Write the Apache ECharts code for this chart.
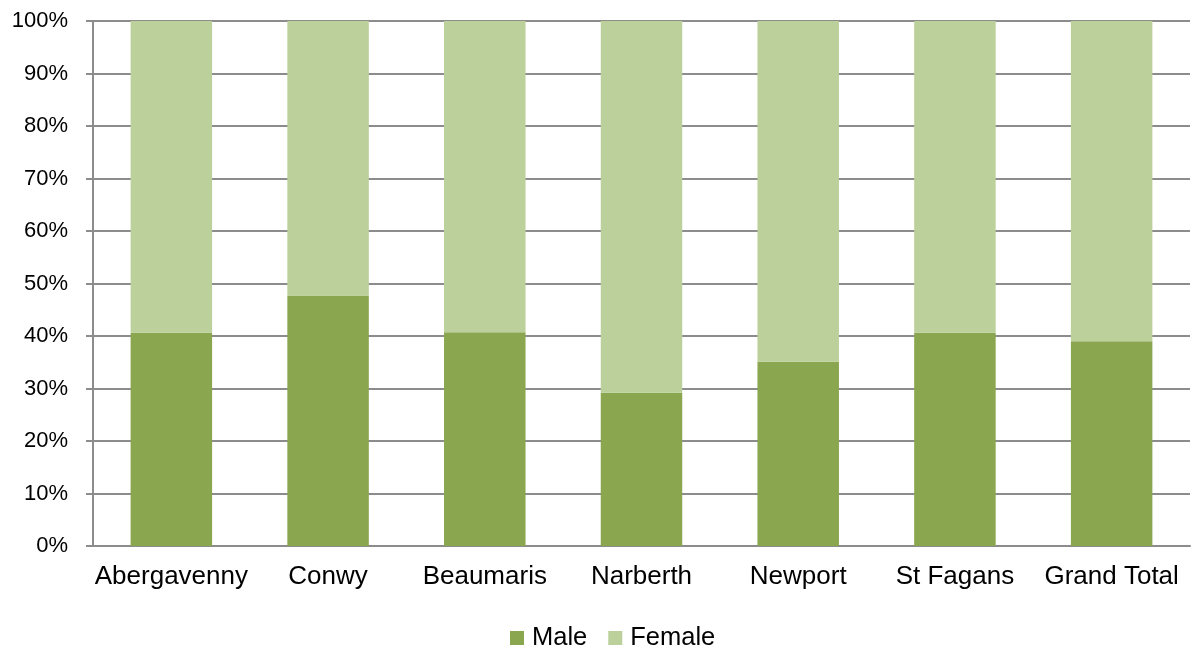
<!DOCTYPE html>
<html>
<head>
<meta charset="utf-8">
<script src="https://cdn.jsdelivr.net/npm/echarts@6/dist/echarts.min.js"></script>
<style>
  html, body { margin: 0; padding: 0; background: #ffffff; }
  #chart { width: 1193px; height: 648px; }
</style>
</head>
<body>
<div id="chart"></div>
<script>
// Share of visitors by sex at each site (percent)
const categories = ['Abergavenny', 'Conwy', 'Beaumaris', 'Narberth', 'Newport', 'St Fagans', 'Grand Total'];
const maleShare = [40.6, 47.7, 40.7, 29.2, 35.1, 40.6, 39.0];
const femaleShare = [59.4, 52.3, 59.3, 70.8, 64.9, 59.4, 61.0];

const FONT = '"Liberation Sans", Arial, sans-serif';
const chart = echarts.init(document.getElementById('chart'), null, { renderer: 'canvas' });

chart.setOption({
  animation: false,
  backgroundColor: '#ffffff',
  grid: { left: 93, right: 3, top: 21, bottom: 102, containLabel: false },
  legend: {
    top: 625,
    left: 510,
    padding: 0,
    itemWidth: 14,
    itemHeight: 14,
    itemGap: 21,
    icon: 'rect',
    textStyle: { fontFamily: FONT, fontSize: 25.5, color: '#000000', padding: [0, 0, 0, 3] },
    data: ['Male', 'Female']
  },
  xAxis: {
    type: 'category',
    data: categories,
    axisLine: { lineStyle: { color: '#8c8c8c', width: 2 } },
    axisTick: { show: false },
    axisLabel: { fontFamily: FONT, fontSize: 26, color: '#000000', margin: 18, interval: 0 }
  },
  yAxis: {
    type: 'value',
    min: 0,
    max: 100,
    interval: 10,
    axisLine: { show: true, lineStyle: { color: '#8c8c8c', width: 2 } },
    axisTick: { show: true, length: 7, lineStyle: { color: '#8c8c8c', width: 2 } },
    splitLine: { lineStyle: { color: '#8c8c8c', width: 2 } },
    axisLabel: {
      fontFamily: FONT, fontSize: 22, color: '#000000', margin: 25,
      formatter: v => v + '%'
    }
  },
  series: [
    {
      name: 'Male',
      type: 'bar',
      stack: 'share',
      barWidth: '52%',
      itemStyle: { color: '#8aa64f' },
      data: maleShare
    },
    {
      name: 'Female',
      type: 'bar',
      stack: 'share',
      barWidth: '52%',
      itemStyle: { color: '#bbd09a' },
      data: femaleShare
    }
  ]
});
</script>
</body>
</html>
